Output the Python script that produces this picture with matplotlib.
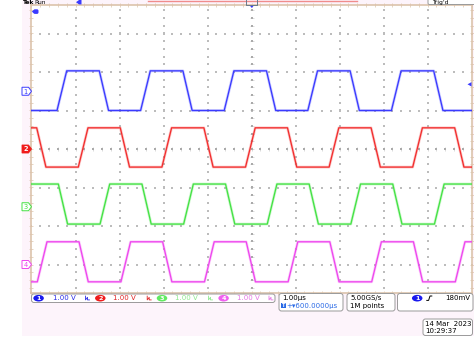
import matplotlib
matplotlib.use("Agg")
import matplotlib.pyplot as plt
from matplotlib.patches import FancyBboxPatch, Polygon, Ellipse, Rectangle
import numpy as np

# ---- acquisition settings shown in the readouts ----
time_per_div_us = 1.00
volts_per_div = [1.00, 1.00, 1.00, 1.00]
channel_names = ["1", "2", "3", "4"]
channel_pos_div = [1.5, 0.0, -1.5, -3.0]          # ground reference markers
trigger_level_v = 0.180

# ---- captured waveforms: edge start times (us from screen left) and levels (V) ----
ch1_rise = [0.580, 2.480, 4.380, 6.280, 8.180]
ch1_fall = [1.541, 3.441, 5.341, 7.241, 9.141]
ch1_high, ch1_low, ch1_start = 0.53, -0.50, -0.50

ch2_rise = [1.064, 2.964, 4.864, 6.764, 8.664]
ch2_fall = [0.118, 2.018, 3.918, 5.818, 7.718, 9.618]
ch2_high, ch2_low, ch2_start = 0.55, -0.47, 0.55

ch3_rise = [1.558, 3.458, 5.358, 7.258, 9.158]
ch3_fall = [0.610, 2.510, 4.410, 6.310, 8.210]
ch3_high, ch3_low, ch3_start = 0.59, -0.45, 0.59

ch4_rise = [0.132, 2.032, 3.932, 5.832, 7.732, 9.632]
ch4_fall = [1.080, 2.980, 4.880, 6.780, 8.680]
ch4_high, ch4_low, ch4_start = 0.59, -0.45, -0.45

rise_time_us = 0.22
fall_time_us = 0.21

# ---- colours ----
trace_col = ["#3a3aff", "#f22e2e", "#44e244", "#ee46ee"]
text_col = ["#2a2ae6", "#e02424", "#8ee88e", "#e676e6"]
badge_col = ["#1a1aee", "#f01c1c", "#62ea62", "#f060f0"]
screen_bg = "#fdf4fb"
border_col = "#dcc3ab"
grid_col = "#bcbcbc"
box_edge = "#9a9a9a"

W, H = 474, 347
DIV_X = 44.0
DIV_Y = 38.5
GX0, GX1 = 31.5, 471.5
GY0, GY1 = 5.0, 293.0
GYC = 149.0

fig = plt.figure(figsize=(W / 100, H / 100), dpi=100)
fig.patch.set_facecolor("white")

# screen background
bg = fig.add_axes([0, 0, 1, 1], zorder=0)
bg.set_xlim(0, W); bg.set_ylim(H, 0); bg.axis("off")
bg.add_patch(Rectangle((22, 0), W - 22, 336, facecolor=screen_bg, edgecolor="none"))

# graticule axes in time / division units
ax = fig.add_axes([GX0 / W, (H - GY1) / H, (GX1 - GX0) / W, (GY1 - GY0) / H], zorder=1)
ax.set_facecolor("white")
ax.set_xlim(0, 10 * time_per_div_us)
ax.set_ylim(-(GY1 - GYC) / DIV_Y, (GYC - GY0) / DIV_Y)
for s in ax.spines.values():
    s.set_color(border_col)
    s.set_linewidth(1.2)
ax.set_xticks([]); ax.set_yticks([])

ylo, yhi = ax.get_ylim()
minor_x = np.arange(0, 10.001, 0.2)
minor_y = np.arange(np.ceil(ylo * 5) / 5, yhi + 1e-6, 0.2)
# dotted grid lines
for gx in range(1, 10):
    if gx == 5:
        continue
    ax.scatter(np.full_like(minor_y, gx), minor_y, s=0.9, c=grid_col, marker="s", lw=0)
for gy in range(int(np.ceil(ylo)), int(np.floor(yhi)) + 1):
    if gy == 0:
        continue
    ax.scatter(minor_x, np.full_like(minor_x, gy), s=0.9, c=grid_col, marker="s", lw=0)
# centre cross with ticks
ax.scatter(np.full_like(minor_y, 5.0), minor_y, s=5, c="#cccccc", marker="_", lw=0.5)
ax.scatter(minor_x, np.zeros_like(minor_x), s=5, c="#cccccc", marker="|", lw=0.5)
ax.scatter(np.full_like(minor_y, 5.0), minor_y, s=0.9, c="#aaaaaa", marker="s", lw=0)
ax.scatter(minor_x, np.zeros_like(minor_x), s=0.9, c="#aaaaaa", marker="s", lw=0)
# border ticks
for xe in (0.0, 10.0):
    ax.scatter(np.full_like(minor_y, xe), minor_y, s=5, c=border_col, marker="_", lw=0.5, clip_on=False)
for ye in (ylo, yhi):
    ax.scatter(minor_x, np.full_like(minor_x, ye), s=5, c=border_col, marker="|", lw=0.5, clip_on=False)


def build_trace(rises, falls, hi, lo, start):
    events = sorted([(t, hi, rise_time_us) for t in rises] +
                    [(t, lo, fall_time_us) for t in falls])
    ts, vs, level = [0.0], [start], start
    for t0, new, dur in events:
        ts += [t0, t0 + dur]
        vs += [level, new]
        level = new
    ts.append(10 * time_per_div_us)
    vs.append(level)
    return np.array(ts), np.array(vs)


channels = [
    (ch1_rise, ch1_fall, ch1_high, ch1_low, ch1_start),
    (ch2_rise, ch2_fall, ch2_high, ch2_low, ch2_start),
    (ch3_rise, ch3_fall, ch3_high, ch3_low, ch3_start),
    (ch4_rise, ch4_fall, ch4_high, ch4_low, ch4_start),
]
for i, (r, f, hi, lo, st) in enumerate(channels):
    t, v = build_trace(r, f, hi, lo, st)
    y = channel_pos_div[i] + v / volts_per_div[i]
    ax.plot(t, y, color=trace_col[i], lw=2.0, alpha=0.25, solid_joinstyle="round", zorder=3)
    ax.plot(t, y, color=trace_col[i], lw=0.95, solid_joinstyle="round", zorder=4)

# ---- overlay in screen pixels ----
ov = fig.add_axes([0, 0, 1, 1], zorder=2)
ov.set_xlim(0, W); ov.set_ylim(H, 0); ov.axis("off")
ov.patch.set_alpha(0)

FS = 5.0


def txt(x, y, s, color="black", size=FS, ha="left", va="center", weight="normal"):
    ov.text(x, y, s, color=color, fontsize=size, ha=ha, va=va, weight=weight,
            family="DejaVu Sans")


def ypix(div):
    return GYC - div * DIV_Y


# channel ground markers at the left edge
for i, name in enumerate(channel_names):
    yc = ypix(channel_pos_div[i])
    pts = [(22, yc - 4), (28.5, yc - 4), (31.5, yc), (28.5, yc + 4), (22, yc + 4)]
    if i == 1:
        ov.add_patch(Polygon(pts, closed=True, facecolor=badge_col[i], edgecolor=badge_col[i], lw=0.6))
        txt(25.6, yc + 0.3, name, color="white", size=4.8, ha="center", weight="bold")
    else:
        ov.add_patch(Polygon(pts, closed=True, facecolor="white", edgecolor=trace_col[i], lw=0.7))
        txt(25.6, yc + 0.3, name, color=trace_col[i], size=4.8, ha="center")

# trigger level arrow on the right edge
yt = ypix(channel_pos_div[0] + trigger_level_v / volts_per_div[0])
ov.add_patch(Polygon([(467.5, yt), (471.5, yt - 2.2), (471.5, yt + 2.2)], closed=True,
                     facecolor=trace_col[0], edgecolor="none"))

# trigger position marker (off screen to the left)
ov.add_patch(FancyBboxPatch((33.5, 9.3), 5, 4.6, boxstyle="round,pad=0,rounding_size=1.5",
                            facecolor=trace_col[0], edgecolor="none"))
ov.add_patch(Polygon([(31.8, 11.6), (34.2, 9.6), (34.2, 13.6)], closed=True,
                     facecolor=trace_col[0], edgecolor="none"))

# expansion point marker at top centre
ov.add_patch(Polygon([(249.3, 5.0), (254.3, 5.0), (251.8, 8.0)], closed=True,
                     facecolor=trace_col[0], edgecolor="none"))

# top status strip
txt(23, 0.2, "Tek", size=4.3, va="top", weight="bold")
txt(34, 0.2, "Run", size=4.3, va="top")
ov.plot([148, 357], [1.3, 1.3], color="#f08c8c", lw=1.0)
ov.plot([246.5, 246.5, 257.5, 257.5], [0, 4.5, 4.5, 0], color="#6a7a8a", lw=0.7)
ov.add_patch(Polygon([(76, 2.2), (79, 0), (81.5, 0), (81.5, 4.4), (79, 4.4)], closed=True,
                     facecolor=trace_col[0], edgecolor="none"))
ov.add_patch(FancyBboxPatch((428, -4), 50, 8.5, boxstyle="round,pad=0,rounding_size=1.5",
                            facecolor="white", edgecolor=box_edge, lw=0.7))
txt(432, 0.2, "Trig'd", size=4.3, va="top")

# channel readout strip
ov.add_patch(FancyBboxPatch((31.5, 294), 243.5, 8.5, boxstyle="round,pad=0,rounding_size=2.5",
                            facecolor="white", edgecolor=box_edge, lw=0.7))
badge_x = [38.6, 100.3, 162.0, 223.6]
volt_x = [52.7, 113.3, 175.0, 236.7]
bw_x = [87.5, 149.2, 210.5, 271.0]
for i, name in enumerate(channel_names):
    ov.add_patch(Ellipse((badge_x[i], 298.2), 10.5, 6.6, facecolor=badge_col[i], edgecolor="none"))
    txt(badge_x[i], 298.5, name, color="white", size=4.6, ha="center", weight="bold")
    txt(volt_x[i], 298.5, f"{volts_per_div[i]:.2f} V", color=text_col[i])
    bx, by = bw_x[i], 298.3
    ov.plot([bx - 2, bx - 2, bx, bx, bx + 2], [by - 2.2, by + 1.6, by - 1.0, by + 1.6, by + 1.6],
            color=text_col[i], lw=0.6)

# timebase readout
ov.add_patch(FancyBboxPatch((279, 293.5), 64, 17.5, boxstyle="round,pad=0,rounding_size=2.5",
                            facecolor="white", edgecolor=box_edge, lw=0.7))
txt(282.5, 298.0, f"{time_per_div_us:.2f}µs")
ov.add_patch(Rectangle((281.2, 303.3), 4.4, 4.6, facecolor="#2a6ae6", edgecolor="none"))
txt(283.4, 305.8, "T", color="white", size=3.6, ha="center", weight="bold")
txt(286.0, 305.8, "+▾600.0000µs", color="#2a6ae6")

# sample rate readout
ov.add_patch(FancyBboxPatch((347, 293.5), 48, 17.5, boxstyle="round,pad=0,rounding_size=2.5",
                            facecolor="white", edgecolor=box_edge, lw=0.7))
txt(350, 298.0, "5.00GS/s")
txt(350, 305.8, "1M points")

# trigger readout
ov.add_patch(FancyBboxPatch((397.5, 293.5), 75.5, 17.5, boxstyle="round,pad=0,rounding_size=2.5",
                            facecolor="white", edgecolor=box_edge, lw=0.7))
ov.add_patch(Ellipse((417.2, 298.2), 10.5, 6.6, facecolor=badge_col[0], edgecolor="none"))
txt(417.2, 298.5, "1", color="white", size=4.6, ha="center", weight="bold")
ov.plot([426.8, 428.6, 430.0, 431.8], [300.4, 300.4, 296.0, 296.0], color="black", lw=0.7)
txt(470.5, 298.0, f"{trigger_level_v * 1000:.0f}mV", ha="right")

# date / time stamp
ov.add_patch(FancyBboxPatch((423, 319), 49.5, 16.5, boxstyle="round,pad=0,rounding_size=2.5",
                            facecolor="white", edgecolor=box_edge, lw=0.7))
txt(425, 323.5, "14 Mar  2023")
txt(425, 330.8, "10:29:37")

fig.savefig("out.png", dpi=100, facecolor="white")
